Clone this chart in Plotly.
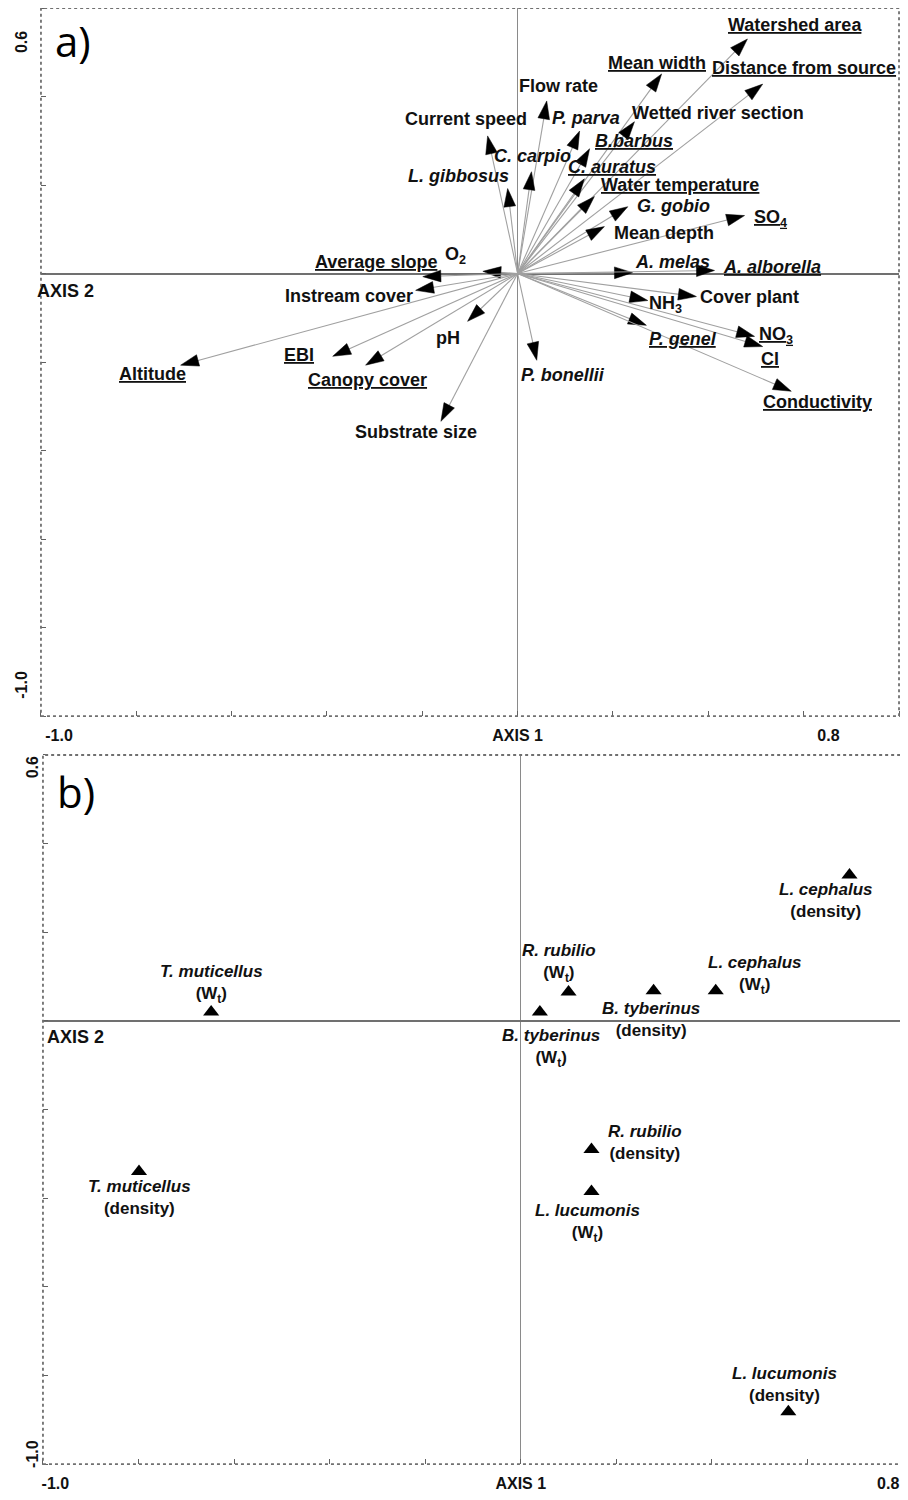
import plotly.graph_objects as go

# ---------------- Panel a) : environmental variables & species vectors ----------------
var_labels = ["Watershed area", "Mean width", "Distance from source", "Flow rate", "P. parva",
              "Current speed", "Wetted river section", "B.barbus", "C. carpio", "C. auratus",
              "L. gibbosus", "Water temperature", "G. gobio", "SO<sub>4</sub>", "Mean depth",
              "O<sub>2</sub>", "A. melas", "A. alborella", "NH<sub>3</sub>", "Cover plant",
              "P. genel", "NO<sub>3</sub>", "Cl", "Conductivity", "P. bonellii", "pH",
              "Substrate size", "Average slope", "Instream cover", "Altitude", "EBI",
              "Canopy cover"]
var_axis1 = [0.482, 0.302, 0.514, 0.061, 0.130, -0.063, 0.245, 0.151, 0.029, 0.140,
             -0.021, 0.161, 0.231, 0.476, 0.182, -0.073, 0.241, 0.413, 0.273, 0.375,
             0.270, 0.497, 0.514, 0.574, 0.040, -0.105, -0.161, -0.199, -0.214, -0.707,
             -0.388, -0.319]
var_axis2 = [0.530, 0.451, 0.428, 0.390, 0.322, 0.311, 0.343, 0.282, 0.230, 0.214,
             0.192, 0.174, 0.151, 0.131, 0.106, 0.005, 0.002, 0.007, -0.061, -0.052,
             -0.117, -0.142, -0.165, -0.266, -0.196, -0.108, -0.334, -0.007, -0.038,
             -0.207, -0.187, -0.207]
italic_vars = ["P. parva", "B.barbus", "C. carpio", "C. auratus", "L. gibbosus", "G. gobio",
               "A. melas", "A. alborella", "P. genel", "P. bonellii"]
underlined_vars = ["Watershed area", "Mean width", "Distance from source", "B.barbus",
                   "C. auratus", "Water temperature", "SO<sub>4</sub>", "A. alborella",
                   "P. genel", "NO<sub>3</sub>", "Cl", "Conductivity", "Average slope",
                   "Altitude", "EBI", "Canopy cover"]

# ---------------- Panel b) : species metrics ----------------
pt_species = ["T. muticellus", "T. muticellus", "R. rubilio", "B. tyberinus", "B. tyberinus",
              "L. cephalus", "L. cephalus", "R. rubilio", "L. lucumonis", "L. lucumonis"]
pt_measure = ["W<sub>t</sub>", "density", "W<sub>t</sub>", "W<sub>t</sub>", "density",
              "W<sub>t</sub>", "density", "density", "W<sub>t</sub>", "density"]
pt_axis1 = [-0.648, -0.799, 0.100, 0.040, 0.278, 0.408, 0.688, 0.148, 0.148, 0.560]
pt_axis2 = [0.020, -0.340, 0.065, 0.020, 0.068, 0.068, 0.329, -0.290, -0.385, -0.882]

# axis tick labels
x_tick_text = ["-1.0", "AXIS 1", "0.8"]
y_tick_text = ["0.6", "-1.0"]
y_axis_name = "AXIS 2"

# ---------------- styling (label offsets in pixels: xshift, yshift) ----------------
VAR_OFFSETS = [(48, 14), (-5, 11), (41, 16), (12, 15), (6, 13), (-22, 17), (84, 9), (44, 8),
               (1, 16), (28, 12), (-49, 13), (86, 12), (46, 1), (26, -3), (60, -6), (-27, 16),
               (40, 11), (57, 3), (18, -4), (53, 0), (37, -14), (21, 1), (7, -12), (26, -11),
               (26, -15), (-20, -17), (-25, -11), (-47, 15), (-67, -6), (-28, -9), (-34, 1),
               (2, -15)]
PT_OFFSETS = [(0, 28), (0, -26), (-10, 29), (11, -36), (-3, -29), (39, 16), (-23, -25),
              (54, 7), (-4, -31), (-4, 27)]
XTICK_POS_A = [-0.962, 0.0, 0.652]
XTICK_POS_B = [-0.974, 0.0, 0.769]
YTICK_POS_A = [0.518, -0.935]
YTICK_POS_B = [0.567, -0.983]

FONT = "Liberation Sans, Arial, sans-serif"
OFF = 8                    # page body margin
W, H = 908 - OFF, 1500 - OFF

fig = go.Figure()

# arrows
for xv, yv in zip(var_axis1, var_axis2):
    fig.add_trace(go.Scatter(
        x=[0, xv], y=[0, yv], mode="lines+markers", xaxis="x", yaxis="y",
        line=dict(color="#a0a0a0", width=1.1),
        marker=dict(symbol="arrow", size=[0, 19], angleref="previous", color="black",
                    opacity=1, line=dict(width=0.5, color="black")),
        hoverinfo="skip", showlegend=False))

annotations = []
for lab, xv, yv, (dx, dy) in zip(var_labels, var_axis1, var_axis2, VAR_OFFSETS):
    t = lab
    if lab in italic_vars:
        t = "<i>" + t + "</i>"
    if lab in underlined_vars:
        t = "<u>" + t + "</u>"
    annotations.append(dict(x=xv, y=yv, xref="x", yref="y", text="<b>" + t + "</b>",
                            showarrow=False, xshift=dx, yshift=dy,
                            font=dict(family=FONT, size=18, color="#111111")))

# points panel b
fig.add_trace(go.Scatter(
    x=pt_axis1, y=pt_axis2, mode="markers", xaxis="x2", yaxis="y2",
    marker=dict(symbol="triangle-up", size=14, color="black"),
    hoverinfo="skip", showlegend=False))
for sp, ms, xv, yv, (dx, dy) in zip(pt_species, pt_measure, pt_axis1, pt_axis2, PT_OFFSETS):
    annotations.append(dict(x=xv, y=yv, xref="x2", yref="y2",
                            text="<b><i>" + sp + "</i><br>(" + ms + ")</b>",
                            showarrow=False, xshift=dx, yshift=dy,
                            font=dict(family=FONT, size=17, color="#111111")))

# axis-2 names and panel letters
annotations.append(dict(x=0, y=0, xref="x domain", yref="y", text="<b>" + y_axis_name + "</b>",
                        showarrow=False, xanchor="left", yanchor="top", xshift=-6, yshift=-5,
                        font=dict(family=FONT, size=18, color="#111111")))
annotations.append(dict(x=0, y=0, xref="x2 domain", yref="y2", text="<b>" + y_axis_name + "</b>",
                        showarrow=False, xanchor="left", yanchor="top", xshift=2, yshift=-4,
                        font=dict(family=FONT, size=18, color="#111111")))
annotations.append(dict(x=0, y=1, xref="x domain", yref="y domain", text="a)",
                        showarrow=False, xanchor="left", yanchor="top", xshift=12, yshift=-2,
                        font=dict(family="Open Sans, sans-serif", size=42, color="black")))
annotations.append(dict(x=0, y=1, xref="x2 domain", yref="y2 domain", text="b)",
                        showarrow=False, xanchor="left", yanchor="top", xshift=12, yshift=-6,
                        font=dict(family="Open Sans, sans-serif", size=42, color="black")))

shapes = []
for xr, yr in (("x", "y"), ("x2", "y2")):
    shapes.append(dict(type="rect", xref=xr + " domain", yref=yr + " domain",
                       x0=0, x1=1, y0=0, y1=1,
                       line=dict(color="#707070", width=1.8, dash="dot"), layer="above"))


def xaxis_cfg(domain, tickpos, anchor):
    return dict(domain=domain, range=[-1.0, 0.8], anchor=anchor, showgrid=False,
                zeroline=True, zerolinecolor="#8a8a8a", zerolinewidth=1,
                showline=False, ticks="", tickmode="array", tickvals=tickpos,
                ticktext=["<b>" + t + "</b>" for t in x_tick_text],
                ticklabelstandoff=8,
                tickfont=dict(family=FONT, size=16, color="#111111"),
                minor=dict(tick0=0, dtick=0.2, ticks="inside", ticklen=5,
                           tickcolor="#606060", tickwidth=1, showgrid=False),
                fixedrange=True)


def yaxis_cfg(domain, tickpos, anchor, standoff):
    return dict(domain=domain, range=[-1.0, 0.6], anchor=anchor, showgrid=False,
                zeroline=True, zerolinecolor="#707070", zerolinewidth=1.8,
                showline=False, ticks="", tickmode="array", tickvals=tickpos,
                ticktext=["<b>" + t + "</b>" for t in y_tick_text], tickangle=-90,
                ticklabelstandoff=standoff,
                tickfont=dict(family=FONT, size=16, color="#111111"),
                minor=dict(tick0=0, dtick=0.2, ticks="inside", ticklen=5,
                           tickcolor="#606060", tickwidth=1, showgrid=False),
                fixedrange=True)


def px_dom_x(a, b):
    return [(a - OFF) / W, (b - OFF) / W]


def px_dom_y(top, bottom):
    return [1 - (bottom - OFF) / H, 1 - (top - OFF) / H]


fig.update_layout(
    width=W, height=H, margin=dict(l=0, r=0, t=0, b=0),
    paper_bgcolor="white", plot_bgcolor="white", showlegend=False,
    font=dict(family=FONT, size=16, color="black"),
    xaxis=xaxis_cfg(px_dom_x(40, 899), XTICK_POS_A, "y"),
    yaxis=yaxis_cfg(px_dom_y(8, 718), YTICK_POS_A, "x", 10),
    xaxis2=xaxis_cfg(px_dom_x(42, 903), XTICK_POS_B, "y2"),
    yaxis2=yaxis_cfg(px_dom_y(757, 1468), YTICK_POS_B, "x2", 1),
    annotations=annotations, shapes=shapes,
)

fig.write_html("out.html")
